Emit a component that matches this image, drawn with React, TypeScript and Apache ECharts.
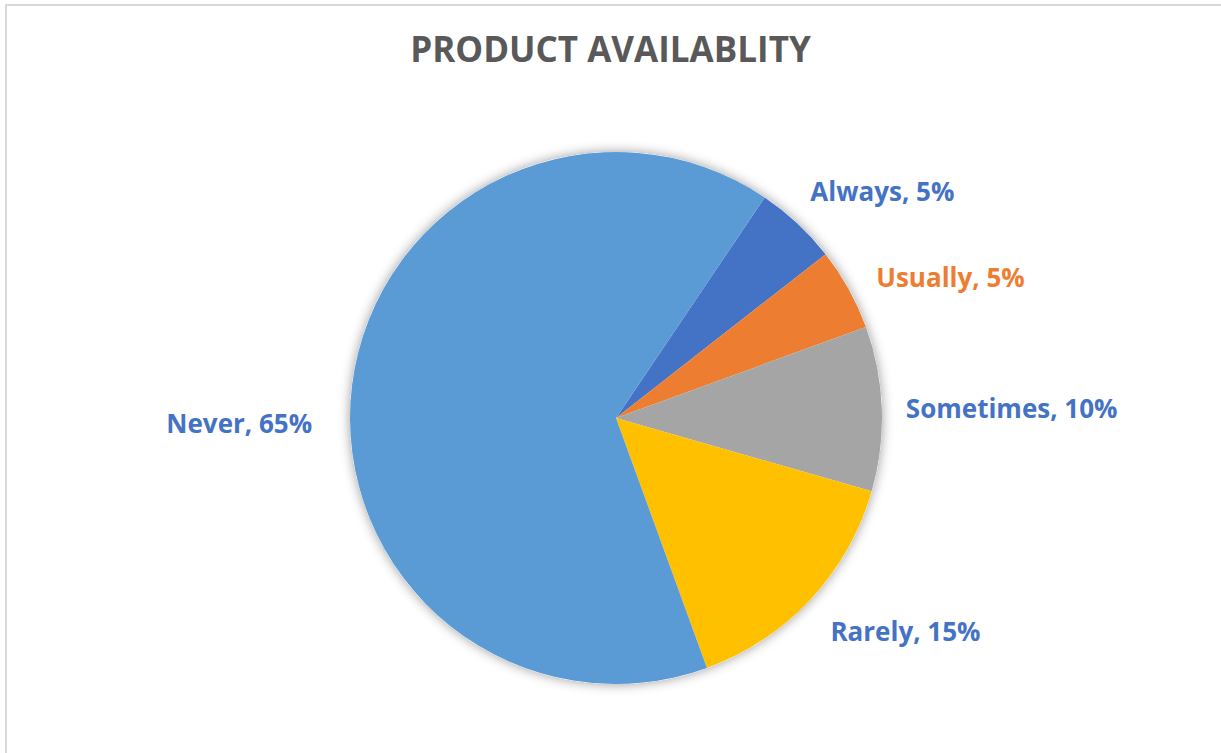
import React, { useEffect, useRef } from "react";
import * as echarts from "echarts";

const categories = ["Always", "Usually", "Sometimes", "Rarely", "Never"];
const values = [5, 5, 10, 15, 65];
const sliceColors = ["#4472C4", "#ED7D31", "#A5A5A5", "#FFC000", "#5B9BD5"];
const labelColors = ["#4472C4", "#ED7D31", "#4472C4", "#4472C4", "#4472C4"];
const titleText = "PRODUCT AVAILABLITY";

// small label nudges (Excel "best fit" placement), in px
const labelNudges: [number, number][] = [
  [-5, -19],
  [6, -3],
  [0, 0],
  [1, 19],
  [-16, 40],
];

export default function App() {
  const ref = useRef<HTMLDivElement>(null);
  useEffect(() => {
    document.body.style.margin = "0";
    const chart = echarts.init(ref.current!, null, { renderer: "svg" });
    const total = values.reduce((a, b) => a + b, 0);
    const option = {
      animation: false,
      backgroundColor: "#ffffff",
      title: {
        text: titleText,
        left: "center",
        top: 26,
        textStyle: {
          fontFamily: "Open Sans",
          fontWeight: "bold",
          fontSize: 35,
          color: "#595959",
        },
      },
      graphic: [
        {
          type: "rect",
          shape: { x: 6, y: 5, width: 1300, height: 800 },
          style: { fill: "none", stroke: "#D9D9D9", lineWidth: 2 },
          silent: true,
        },
      ],
      series: [
        {
          // shadow underlay for the whole pie
          type: "pie",
          center: [616, 418],
          radius: 266,
          silent: true,
          label: { show: false },
          labelLine: { show: false },
          itemStyle: {
            color: "#ffffff",
            shadowBlur: 12,
            shadowColor: "rgba(0,0,0,0.4)",
          },
          emphasis: { disabled: true },
          tooltip: { show: false },
          data: [{ name: "", value: total }],
        },
        {
          type: "pie",
          center: [616, 418],
          radius: 266,
          startAngle: 56,
          clockwise: true,
          avoidLabelOverlap: false,
          itemStyle: { borderWidth: 0 },
          label: {
            show: true,
            position: "outside",
            formatter: (p: any) => `${p.name}, ${p.value}%`,
            fontFamily: "Open Sans",
            fontWeight: "bold",
            fontSize: 26,
            distanceToLabelLine: 5,
          },
          labelLine: { show: false, length: 19, length2: 0 },
          labelLayout: (p: any) => {
            const n = labelNudges[p.dataIndex] || [0, 0];
            return { dx: n[0], dy: n[1] };
          },
          emphasis: { disabled: true },
          data: categories.map((c, i) => ({
            name: c,
            value: values[i],
            itemStyle: { color: sliceColors[i] },
            label: { color: labelColors[i] },
          })),
        },
      ],
    };
    chart.setOption(option as any);
    return () => chart.dispose();
  }, []);
  return <div ref={ref} style={{ width: 1221, height: 753 }} />;
}
